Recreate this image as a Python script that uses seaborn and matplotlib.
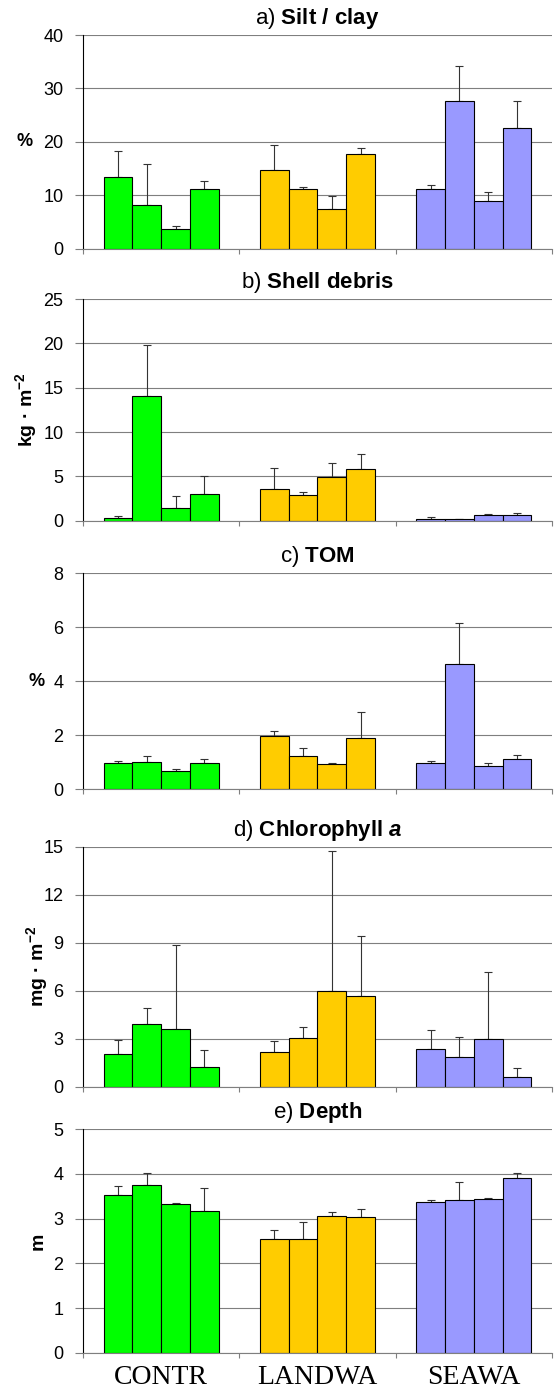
import numpy as np
import pandas as pd
import matplotlib
matplotlib.use("Agg")
import matplotlib.pyplot as plt
import seaborn as sns

# ---------------- data ----------------
groups = ["CONTR", "LANDWA", "SEAWA"]
stations = ["S1", "S2", "S3", "S4"]
group_colors = ["#00FF00", "#FFCC00", "#9999FF"]

silt_mean = [13.5, 8.2, 3.7, 11.1, 14.8, 11.1, 7.4, 17.8, 11.2, 27.6, 9.0, 22.6]
silt_sd = [4.8, 7.7, 0.6, 1.6, 4.6, 0.5, 2.5, 1.0, 0.8, 6.6, 1.7, 5.0]

shell_mean = [0.26, 14.1, 1.38, 2.96, 3.63, 2.88, 4.94, 5.8, 0.20, 0.15, 0.60, 0.68]
shell_sd = [0.26, 5.7, 1.42, 2.09, 2.36, 0.30, 1.53, 1.76, 0.20, 0.07, 0.10, 0.18]

tom_mean = [0.95, 0.99, 0.65, 0.95, 1.98, 1.21, 0.93, 1.90, 0.95, 4.65, 0.85, 1.12]
tom_sd = [0.07, 0.23, 0.09, 0.15, 0.17, 0.31, 0.03, 0.94, 0.07, 1.50, 0.10, 0.14]

chl_mean = [2.03, 3.95, 3.63, 1.23, 2.17, 3.07, 6.0, 5.7, 2.34, 1.88, 2.99, 0.63]
chl_sd = [0.92, 0.94, 5.25, 1.09, 0.69, 0.65, 8.75, 3.74, 1.19, 1.21, 4.18, 0.52]

depth_mean = [3.54, 3.76, 3.33, 3.18, 2.54, 2.54, 3.07, 3.03, 3.37, 3.42, 3.45, 3.92]
depth_sd = [0.18, 0.27, 0.03, 0.50, 0.20, 0.38, 0.07, 0.19, 0.05, 0.39, 0.01, 0.11]

silt_ticks = [0, 10, 20, 30, 40]
shell_ticks = [0, 5, 10, 15, 20, 25]
tom_ticks = [0, 2, 4, 6, 8]
chl_ticks = [0, 3, 6, 9, 12, 15]
depth_ticks = [0, 1, 2, 3, 4, 5]

has_bfit = "mathtext.bfit" in plt.rcParams
chl_title = (r"d) $\mathbf{Chlorophyll}\ \mathbfit{a}$" if has_bfit
             else r"d) $\mathbf{Chlorophyll\ a}$")

panels = [
    (r"a) $\mathbf{Silt\ /\ clay}$", silt_mean, silt_sd, silt_ticks, "%", False),
    (r"b) $\mathbf{Shell\ debris}$", shell_mean, shell_sd, shell_ticks, r"kg · m$^{\mathbf{-2}}$", True),
    (r"c) $\mathbf{TOM}$", tom_mean, tom_sd, tom_ticks, "%", False),
    (chl_title, chl_mean, chl_sd, chl_ticks, r"mg · m$^{\mathbf{-2}}$", True),
    (r"e) $\mathbf{Depth}$", depth_mean, depth_sd, depth_ticks, "m", True),
]

# ---------------- style ----------------
sns.set_theme(style="white")
plt.rcParams["font.family"] = ["Liberation Sans", "DejaVu Sans"]
plt.rcParams["mathtext.fontset"] = "custom"
plt.rcParams["mathtext.rm"] = "Liberation Sans"
plt.rcParams["mathtext.bf"] = "Liberation Sans:bold"
plt.rcParams["mathtext.it"] = "Liberation Sans:italic"
if has_bfit:
    plt.rcParams["mathtext.bfit"] = "Liberation Sans:bold:italic"

W, H = 557, 1391
fig = plt.figure(figsize=(W / 100, H / 100), dpi=100)

# axes pixel extents (top, bottom) in image coordinates
extents = [(35, 248.7), (299, 520.7), (573.3, 789), (846.7, 1086.7), (1129.3, 1352.7)]
left_px, right_px = 83, 552
ylabel_x = [25, 26, 37, 37, 38]

for i, ((title, mean, sd, ticks, ylab, rot), (top, bot)) in enumerate(zip(panels, extents)):
    ax = fig.add_axes([left_px / W, 1 - bot / H, (right_px - left_px) / W, (bot - top) / H])
    df = pd.DataFrame({
        "group": np.repeat(groups, len(stations)),
        "station": stations * len(groups),
        "value": mean,
    })
    sns.barplot(data=df, x="group", y="value", hue="station", order=groups,
                hue_order=stations, palette=["#ffffff"] * 4, width=0.735, gap=0,
                dodge=True, errorbar=None, edgecolor="black", linewidth=0.8,
                saturation=1, legend=False, ax=ax, zorder=2)
    bars = sorted([p for p in ax.patches], key=lambda p: p.get_x())
    for k, p in enumerate(bars):
        p.set_facecolor(group_colors[k // len(stations)])
    xs = np.array([p.get_x() + p.get_width() / 2 for p in bars])
    hs = np.array([p.get_height() for p in bars])
    ax.errorbar(xs, hs, yerr=[np.zeros(len(sd)), np.array(sd)], fmt="none",
                ecolor="#333333", elinewidth=0.8, capsize=3.2, capthick=0.8, zorder=1.5)

    ax.set_xlim(-0.5, 2.5)
    ax.set_ylim(ticks[0], ticks[-1])
    ax.set_yticks(ticks)
    ax.set_yticklabels([str(t) for t in ticks])
    ax.set_xticks([-0.5, 0.5, 1.5, 2.5])
    ax.set_xticklabels([])
    ax.set_xlabel("")
    ax.set_ylabel("")
    ax.grid(axis="y", color="#7f7f7f", linewidth=0.8)
    ax.grid(axis="x", visible=False)
    ax.set_axisbelow(True)
    for s in ["top", "right"]:
        ax.spines[s].set_visible(False)
    ax.spines["left"].set_color("black")
    ax.spines["left"].set_linewidth(0.8)
    ax.spines["bottom"].set_color("#7f7f7f")
    ax.spines["bottom"].set_linewidth(0.8)
    ax.tick_params(axis="x", which="major", bottom=True, length=3.6, width=0.8,
                   color="#7f7f7f", direction="out")
    ax.tick_params(axis="y", left=True, length=5.5, width=0.8, color="#7f7f7f",
                   direction="out", labelsize=13, pad=8.5, labelcolor="black")
    ax.set_title(title, fontsize=16, pad=8, color="black")

    yc = 1 - (top + bot) / 2 / H
    if rot:
        fig.text(ylabel_x[i] / W, yc, ylab, rotation=90, ha="center", va="center",
                 fontsize=14, fontweight="bold", color="black")
    else:
        fig.text(ylabel_x[i] / W, yc, ylab, ha="center", va="center",
                 fontsize=13, fontweight="bold", color="black")

    if i == len(panels) - 1:
        ax.set_xticks([0, 1, 2], minor=True)
        ax.set_xticklabels(groups, minor=True, fontfamily="Liberation Serif",
                           fontsize=20, color="black")
        ax.tick_params(axis="x", which="minor", length=0, pad=9)

fig.savefig("out.png", dpi=100)
